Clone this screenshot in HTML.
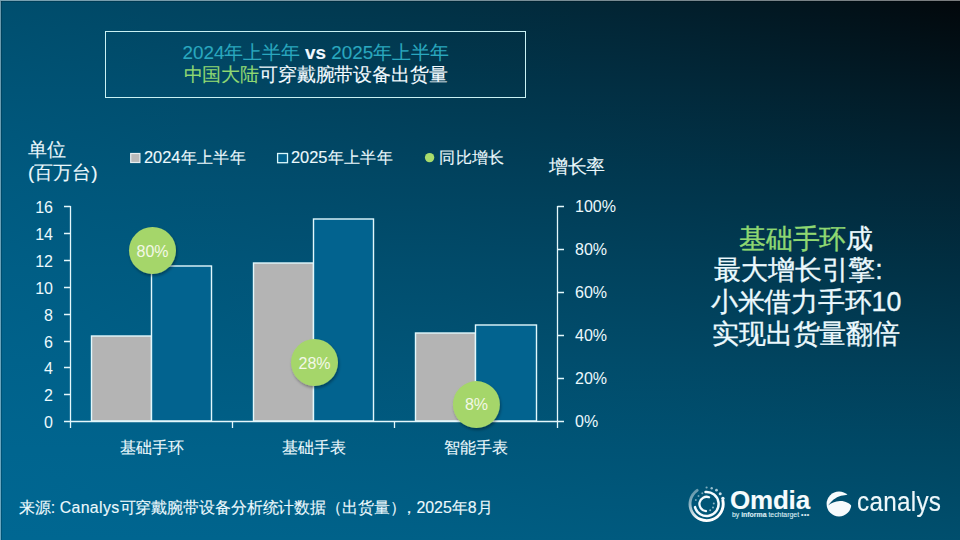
<!DOCTYPE html>
<html><head><meta charset="utf-8">
<style>
html,body{margin:0;padding:0;}
body{width:960px;height:540px;overflow:hidden;position:relative;font-family:"Liberation Sans",sans-serif;color:#ecf9fd;
background:#02344a;}
#bg{position:absolute;left:0;top:0;width:960px;height:540px;}
#bg i{position:absolute;top:0;width:10px;height:540px;}
.a{position:absolute;white-space:nowrap;line-height:1;-webkit-text-stroke:0.12px currentColor;}
#topline{position:absolute;left:0;top:0;width:960px;height:1px;background:rgba(255,255,255,0.47);box-shadow:0 1px 0 rgba(0,0,0,0.18);}
#leftline{position:absolute;left:0;top:1px;width:1px;height:539px;background:rgba(255,255,255,0.42);box-shadow:1px 0 0 rgba(0,0,0,0.18);}
#tbox{position:absolute;left:105px;top:31px;width:421px;height:67px;border:1px solid #c9f1f3;box-sizing:border-box;}
.t1{left:106px;width:419px;text-align:center;top:44px;font-size:18.85px;color:#2aa8bf;}
.t2{left:106px;width:419px;text-align:center;top:66px;font-size:18.85px;color:#f4fbff;}
.g{color:#8fd872;}
svg{position:absolute;left:0;top:0;}
.c{display:inline-block;width:1em;text-align:center;}
</style></head><body>
<div id="bg"><i style="left:0px;background:linear-gradient(#004f6f 0px,#005578 90px,#005a80 180px,#005f86 270px,#00628c 360px,#006590 450px,#006792 540px)"></i><i style="left:10px;background:linear-gradient(#004e6e 0px,#005477 90px,#005a7f 180px,#005e86 270px,#00628b 360px,#00658f 450px,#006792 540px)"></i><i style="left:20px;background:linear-gradient(#004d6d 0px,#005477 90px,#00597f 180px,#005e85 270px,#00628b 360px,#00658f 450px,#006792 540px)"></i><i style="left:30px;background:linear-gradient(#004d6c 0px,#005376 90px,#00597e 180px,#005e85 270px,#00618a 360px,#00658f 450px,#006792 540px)"></i><i style="left:40px;background:linear-gradient(#004c6c 0px,#005375 90px,#00587d 180px,#005d84 270px,#00618a 360px,#00648e 450px,#006792 540px)"></i><i style="left:50px;background:linear-gradient(#004c6b 0px,#005274 90px,#00587d 180px,#005d84 270px,#00618a 360px,#00648e 450px,#006791 540px)"></i><i style="left:60px;background:linear-gradient(#004b6a 0px,#005274 90px,#00577c 180px,#005c83 270px,#006189 360px,#00648e 450px,#006791 540px)"></i><i style="left:70px;background:linear-gradient(#004a69 0px,#005173 90px,#00577b 180px,#005c83 270px,#006089 360px,#00648d 450px,#006691 540px)"></i><i style="left:80px;background:linear-gradient(#004a68 0px,#005072 90px,#00567b 180px,#005c82 270px,#006088 360px,#00648d 450px,#006691 540px)"></i><i style="left:90px;background:linear-gradient(#004967 0px,#005071 90px,#00567a 180px,#005b81 270px,#006088 360px,#00638d 450px,#006691 540px)"></i><i style="left:100px;background:linear-gradient(#004866 0px,#004f70 90px,#005679 180px,#005b81 270px,#005f87 360px,#00638c 450px,#006690 540px)"></i><i style="left:110px;background:linear-gradient(#004865 0px,#004f70 90px,#005579 180px,#005a80 270px,#005f87 360px,#00638c 450px,#006690 540px)"></i><i style="left:120px;background:linear-gradient(#014764 0px,#004e6f 90px,#005578 180px,#005a80 270px,#005f86 360px,#00638c 450px,#006690 540px)"></i><i style="left:130px;background:linear-gradient(#014663 0px,#004e6e 90px,#005477 180px,#005a7f 270px,#005e86 360px,#00628b 450px,#006590 540px)"></i><i style="left:140px;background:linear-gradient(#014663 0px,#014d6d 90px,#005477 180px,#00597f 270px,#005e85 360px,#00628b 450px,#00658f 540px)"></i><i style="left:150px;background:linear-gradient(#014562 0px,#014d6c 90px,#005376 180px,#00597e 270px,#005e85 360px,#00628b 450px,#00658f 540px)"></i><i style="left:160px;background:linear-gradient(#014461 0px,#014c6c 90px,#005375 180px,#00587d 270px,#005d84 360px,#00628a 450px,#00658f 540px)"></i><i style="left:170px;background:linear-gradient(#014460 0px,#014b6b 90px,#005274 180px,#00587d 270px,#005d84 360px,#00618a 450px,#00658f 540px)"></i><i style="left:180px;background:linear-gradient(#01435f 0px,#014b6a 90px,#015274 180px,#00587c 270px,#005d83 360px,#00618a 450px,#00658e 540px)"></i><i style="left:190px;background:linear-gradient(#01435e 0px,#014a69 90px,#015173 180px,#00577c 270px,#005c83 360px,#006189 450px,#00648e 540px)"></i><i style="left:200px;background:linear-gradient(#01425d 0px,#014a68 90px,#015172 180px,#00577b 270px,#005c83 360px,#006189 450px,#00648e 540px)"></i><i style="left:210px;background:linear-gradient(#01415c 0px,#014967 90px,#015072 180px,#00567a 270px,#005c82 360px,#006088 450px,#00648d 540px)"></i><i style="left:220px;background:linear-gradient(#01405b 0px,#014867 90px,#015071 180px,#00567a 270px,#005b81 360px,#006088 450px,#00648d 540px)"></i><i style="left:230px;background:linear-gradient(#01405a 0px,#014866 90px,#014f70 180px,#015579 270px,#005b81 360px,#006088 450px,#00648d 540px)"></i><i style="left:240px;background:linear-gradient(#013f59 0px,#014765 90px,#014f6f 180px,#015579 270px,#005b80 360px,#006087 450px,#00648d 540px)"></i><i style="left:250px;background:linear-gradient(#013e58 0px,#014764 90px,#014e6f 180px,#015578 270px,#005a80 360px,#005f87 450px,#00638c 540px)"></i><i style="left:260px;background:linear-gradient(#013e57 0px,#014663 90px,#014e6e 180px,#015477 270px,#005a7f 360px,#005f86 450px,#00638c 540px)"></i><i style="left:270px;background:linear-gradient(#013d56 0px,#014562 90px,#014d6d 180px,#015477 270px,#005a7f 360px,#005f86 450px,#00638c 540px)"></i><i style="left:280px;background:linear-gradient(#013c55 0px,#014561 90px,#014c6c 180px,#015376 270px,#00597e 360px,#005e85 450px,#00638b 540px)"></i><i style="left:290px;background:linear-gradient(#013c54 0px,#014461 90px,#014c6c 180px,#015375 270px,#00597e 360px,#005e85 450px,#00638b 540px)"></i><i style="left:300px;background:linear-gradient(#013b53 0px,#014460 90px,#014b6b 180px,#015275 270px,#00597d 360px,#005e85 450px,#00628b 540px)"></i><i style="left:310px;background:linear-gradient(#013a52 0px,#01435f 90px,#014b6a 180px,#015274 270px,#00587d 360px,#005e84 450px,#00628a 540px)"></i><i style="left:320px;background:linear-gradient(#013a51 0px,#01425e 90px,#014a69 180px,#015173 270px,#00587c 360px,#005d84 450px,#00628a 540px)"></i><i style="left:330px;background:linear-gradient(#013950 0px,#01425d 90px,#014a69 180px,#015173 270px,#01577c 360px,#005d83 450px,#00628a 540px)"></i><i style="left:340px;background:linear-gradient(#01384f 0px,#01415c 90px,#014968 180px,#015172 270px,#01577b 360px,#005d83 450px,#006289 540px)"></i><i style="left:350px;background:linear-gradient(#01374e 0px,#01405b 90px,#014967 180px,#015071 270px,#01577b 360px,#005c82 450px,#006189 540px)"></i><i style="left:360px;background:linear-gradient(#01374d 0px,#01405a 90px,#014866 180px,#015071 270px,#01567a 360px,#005c82 450px,#006189 540px)"></i><i style="left:370px;background:linear-gradient(#01364c 0px,#013f5a 90px,#014865 180px,#014f70 270px,#015679 360px,#005c81 450px,#006188 540px)"></i><i style="left:380px;background:linear-gradient(#01354b 0px,#013f59 90px,#014765 180px,#014f6f 270px,#015579 360px,#005b81 450px,#006188 540px)"></i><i style="left:390px;background:linear-gradient(#01354a 0px,#013e58 90px,#014664 180px,#014e6f 270px,#015578 360px,#005b81 450px,#006088 540px)"></i><i style="left:400px;background:linear-gradient(#013449 0px,#013d57 90px,#014663 180px,#014e6e 270px,#015578 360px,#005b80 450px,#006087 540px)"></i><i style="left:410px;background:linear-gradient(#013348 0px,#013d56 90px,#014562 180px,#014d6d 270px,#015477 360px,#005a80 450px,#006087 540px)"></i><i style="left:420px;background:linear-gradient(#013247 0px,#013c55 90px,#014561 180px,#014d6d 270px,#015476 360px,#005a7f 450px,#006087 540px)"></i><i style="left:430px;background:linear-gradient(#013246 0px,#013b54 90px,#014461 180px,#014c6c 270px,#015376 360px,#005a7f 450px,#005f86 540px)"></i><i style="left:440px;background:linear-gradient(#013145 0px,#013b53 90px,#014460 180px,#014c6b 270px,#015375 360px,#00597e 450px,#005f86 540px)"></i><i style="left:450px;background:linear-gradient(#013044 0px,#013a52 90px,#01435f 180px,#014b6a 270px,#015375 360px,#00597e 450px,#005f85 540px)"></i><i style="left:460px;background:linear-gradient(#022f43 0px,#013951 90px,#01425e 180px,#014b6a 270px,#015274 360px,#00597d 450px,#005f85 540px)"></i><i style="left:470px;background:linear-gradient(#022f42 0px,#013950 90px,#01425d 180px,#014a69 270px,#015273 360px,#00587d 450px,#005e85 540px)"></i><i style="left:480px;background:linear-gradient(#022e41 0px,#01384f 90px,#01415c 180px,#014a68 270px,#015173 360px,#00587c 450px,#005e84 540px)"></i><i style="left:490px;background:linear-gradient(#022d40 0px,#01374e 90px,#01415c 180px,#014968 270px,#015172 360px,#00587c 450px,#005e84 540px)"></i><i style="left:500px;background:linear-gradient(#022c3f 0px,#01374d 90px,#01405b 180px,#014967 270px,#015072 360px,#00577b 450px,#005e83 540px)"></i><i style="left:510px;background:linear-gradient(#022c3e 0px,#01364c 90px,#013f5a 180px,#014866 270px,#015071 360px,#00577b 450px,#005d83 540px)"></i><i style="left:520px;background:linear-gradient(#022b3d 0px,#01354c 90px,#013f59 180px,#014865 270px,#015070 360px,#00577a 450px,#005d83 540px)"></i><i style="left:530px;background:linear-gradient(#022a3c 0px,#01354b 90px,#013e58 180px,#014765 270px,#014f70 360px,#00567a 450px,#005d82 540px)"></i><i style="left:540px;background:linear-gradient(#02293b 0px,#01344a 90px,#013e57 180px,#014764 270px,#014f6f 360px,#005679 450px,#005c82 540px)"></i><i style="left:550px;background:linear-gradient(#022939 0px,#013349 90px,#013d56 180px,#014663 270px,#014e6e 360px,#005679 450px,#005c81 540px)"></i><i style="left:560px;background:linear-gradient(#022838 0px,#013248 90px,#013c56 180px,#014662 270px,#014e6e 360px,#005578 450px,#005c81 540px)"></i><i style="left:570px;background:linear-gradient(#022737 0px,#023247 90px,#013c55 180px,#014562 270px,#014d6d 360px,#005577 450px,#005c80 540px)"></i><i style="left:580px;background:linear-gradient(#022636 0px,#023146 90px,#013b54 180px,#014461 270px,#014d6c 360px,#005577 450px,#005b80 540px)"></i><i style="left:590px;background:linear-gradient(#022535 0px,#023045 90px,#013b53 180px,#014460 270px,#014c6c 360px,#005476 450px,#005b80 540px)"></i><i style="left:600px;background:linear-gradient(#022534 0px,#023044 90px,#013a52 180px,#01435f 270px,#014c6b 360px,#005476 450px,#005b7f 540px)"></i><i style="left:610px;background:linear-gradient(#022433 0px,#022f43 90px,#013951 180px,#01435e 270px,#014c6a 360px,#005375 450px,#005a7f 540px)"></i><i style="left:620px;background:linear-gradient(#022332 0px,#022e42 90px,#013950 180px,#01425e 270px,#014b6a 360px,#005375 450px,#005a7e 540px)"></i><i style="left:630px;background:linear-gradient(#022231 0px,#022e41 90px,#01384f 180px,#01425d 270px,#014b69 360px,#005374 450px,#005a7e 540px)"></i><i style="left:640px;background:linear-gradient(#022130 0px,#022d40 90px,#01374f 180px,#01415c 270px,#014a68 360px,#005274 450px,#005a7d 540px)"></i><i style="left:650px;background:linear-gradient(#02212e 0px,#022c3f 90px,#01374e 180px,#01415b 270px,#014a68 360px,#005273 450px,#00597d 540px)"></i><i style="left:660px;background:linear-gradient(#02202d 0px,#022b3e 90px,#01364d 180px,#01405b 270px,#014967 360px,#005172 450px,#00597c 540px)"></i><i style="left:670px;background:linear-gradient(#021f2c 0px,#022b3d 90px,#01354c 180px,#013f5a 270px,#014966 360px,#005172 450px,#00597c 540px)"></i><i style="left:680px;background:linear-gradient(#021e2b 0px,#022a3c 90px,#01354b 180px,#013f59 270px,#014866 360px,#005171 450px,#00587b 540px)"></i><i style="left:690px;background:linear-gradient(#021d2a 0px,#02293b 90px,#01344a 180px,#013e58 270px,#014865 360px,#005071 450px,#00587b 540px)"></i><i style="left:700px;background:linear-gradient(#021d29 0px,#022839 90px,#013349 180px,#013e57 270px,#014764 360px,#005070 450px,#00587a 540px)"></i><i style="left:710px;background:linear-gradient(#021c28 0px,#022838 90px,#013348 180px,#013d56 270px,#014764 360px,#004f6f 450px,#00577a 540px)"></i><i style="left:720px;background:linear-gradient(#021b26 0px,#022737 90px,#013247 180px,#013d56 270px,#014663 360px,#004f6f 450px,#00577a 540px)"></i><i style="left:730px;background:linear-gradient(#021a25 0px,#022636 90px,#013246 180px,#013c55 270px,#014662 360px,#004f6e 450px,#005779 540px)"></i><i style="left:740px;background:linear-gradient(#021924 0px,#022535 90px,#013145 180px,#013b54 270px,#014561 360px,#004e6e 450px,#005679 540px)"></i><i style="left:750px;background:linear-gradient(#021823 0px,#022534 90px,#013044 180px,#013b53 270px,#014561 360px,#004e6d 450px,#005678 540px)"></i><i style="left:760px;background:linear-gradient(#021822 0px,#022433 90px,#012f43 180px,#013a52 270px,#014460 360px,#004d6c 450px,#005677 540px)"></i><i style="left:770px;background:linear-gradient(#021721 0px,#022332 90px,#012f42 180px,#013a51 270px,#01445f 360px,#004d6c 450px,#005577 540px)"></i><i style="left:780px;background:linear-gradient(#02161f 0px,#022231 90px,#012e41 180px,#013951 270px,#01435e 360px,#004c6b 450px,#005576 540px)"></i><i style="left:790px;background:linear-gradient(#02151e 0px,#022230 90px,#012d40 180px,#013850 270px,#01435e 360px,#004c6a 450px,#005476 540px)"></i><i style="left:800px;background:linear-gradient(#02141d 0px,#02212f 90px,#012d40 180px,#01384f 270px,#01425d 360px,#004c6a 450px,#005475 540px)"></i><i style="left:810px;background:linear-gradient(#02131c 0px,#02202e 90px,#012c3f 180px,#01374e 270px,#01425c 360px,#004b69 450px,#005475 540px)"></i><i style="left:820px;background:linear-gradient(#02121b 0px,#021f2d 90px,#012b3e 180px,#01374d 270px,#01415b 360px,#004b69 450px,#005374 540px)"></i><i style="left:830px;background:linear-gradient(#021219 0px,#021f2c 90px,#012b3d 180px,#01364c 270px,#01405b 360px,#004a68 450px,#005374 540px)"></i><i style="left:840px;background:linear-gradient(#021118 0px,#021e2b 90px,#012a3c 180px,#01354b 270px,#01405a 360px,#004a67 450px,#005373 540px)"></i><i style="left:850px;background:linear-gradient(#021017 0px,#021d29 90px,#01293b 180px,#01354b 270px,#013f59 360px,#004967 450px,#005273 540px)"></i><i style="left:860px;background:linear-gradient(#020f16 0px,#021c28 90px,#01293a 180px,#01344a 270px,#013f58 360px,#004966 450px,#005272 540px)"></i><i style="left:870px;background:linear-gradient(#020e15 0px,#021b27 90px,#012839 180px,#013449 270px,#013e58 360px,#004865 450px,#005272 540px)"></i><i style="left:880px;background:linear-gradient(#020d13 0px,#021b26 90px,#022738 180px,#013348 270px,#013e57 360px,#004865 450px,#005171 540px)"></i><i style="left:890px;background:linear-gradient(#020c12 0px,#021a25 90px,#022637 180px,#013247 270px,#013d56 360px,#004764 450px,#005170 540px)"></i><i style="left:900px;background:linear-gradient(#020b11 0px,#021924 90px,#022636 180px,#013246 270px,#013d55 360px,#004763 450px,#005070 540px)"></i><i style="left:910px;background:linear-gradient(#020b10 0px,#021823 90px,#022535 180px,#013145 270px,#013c55 360px,#004663 450px,#00506f 540px)"></i><i style="left:920px;background:linear-gradient(#020a0e 0px,#021722 90px,#022434 180px,#013044 270px,#013c54 360px,#004662 450px,#00506f 540px)"></i><i style="left:930px;background:linear-gradient(#02090d 0px,#021721 90px,#022433 180px,#013043 270px,#013b53 360px,#004661 450px,#004f6e 540px)"></i><i style="left:940px;background:linear-gradient(#02080c 0px,#02161f 90px,#022332 180px,#012f42 270px,#013a52 360px,#004560 450px,#004f6e 540px)"></i><i style="left:950px;background:linear-gradient(#02070b 0px,#02151e 90px,#022231 180px,#012e42 270px,#013a51 360px,#004560 450px,#004e6d 540px)"></i></div>
<div id="topline"></div><div id="leftline"></div>
<div id="tbox"></div>
<div class="a t1">2024<span class="c">年</span><span class="c">上</span><span class="c">半</span><span class="c">年</span> <b style="color:#f0f8ff;font-weight:bold">vs</b> 2025<span class="c">年</span><span class="c">上</span><span class="c">半</span><span class="c">年</span></div>
<div class="a t2"><span class="g"><span class="c">中</span><span class="c">国</span><span class="c">大</span><span class="c">陆</span></span><span class="c">可</span><span class="c">穿</span><span class="c">戴</span><span class="c">腕</span><span class="c">带</span><span class="c">设</span><span class="c">备</span><span class="c">出</span><span class="c">货</span><span class="c">量</span></div>

<div class="a" style="left:28px;top:139px;font-size:19px;line-height:22.5px;"><span class="c">单</span><span class="c">位</span><br>(<span class="c">百</span><span class="c">万</span><span class="c">台</span>)</div>

<svg width="960" height="540" viewBox="0 0 960 540">
  <defs>
    <filter id="sh" x="-30%" y="-30%" width="160%" height="160%">
      <feDropShadow dx="1" dy="2" stdDeviation="1.5" flood-color="#000" flood-opacity="0.35"/>
    </filter>
  </defs>
  <!-- legend -->
  <rect x="130.7" y="153.5" width="9.2" height="9" fill="#bababa" stroke="#e8eef0" stroke-width="1.2"/>
  <rect x="277.6" y="153.5" width="9.9" height="9.2" fill="#00618d" stroke="#daf8fc" stroke-width="1.3"/>
  <circle cx="429.6" cy="157.6" r="4.7" fill="#a8dc6c"/>
  <!-- bars -->
  <g stroke="#e2f8fc" stroke-width="1.4">
    <rect x="91.5" y="336" width="60" height="85" fill="#b4b4b4"/>
    <rect x="151.5" y="266" width="60" height="155" fill="#02638f"/>
    <rect x="253.5" y="263" width="60" height="158" fill="#b4b4b4"/>
    <rect x="313.5" y="219" width="60" height="202" fill="#02638f"/>
    <rect x="415.5" y="333" width="60" height="88" fill="#b4b4b4"/>
    <rect x="475.5" y="325" width="61" height="96" fill="#02638f"/>
  </g>
  <!-- axes -->
  <g stroke="#e4f7fb" stroke-width="1.3" fill="none">
    <path d="M70.5 206V428 M64 206.5H70.5 M64 233.5H70.5 M64 260.5H70.5 M64 287.5H70.5 M64 314.5H70.5 M64 341.5H70.5 M64 367.5H70.5 M64 394.5H70.5 M64 421.5H557.5"/>
    <path d="M232.5 421V428 M394.5 421V428"/>
    <path d="M557.5 206V428 M557.5 206.5H564 M557.5 249.5H564 M557.5 292.5H564 M557.5 335.5H564 M557.5 378.5H564 M557.5 421.5H564"/>
  </g>
  <!-- bubbles -->
  <g filter="url(#sh)" fill="#a5d66a">
    <circle cx="152.5" cy="250.5" r="23.5"/>
    <circle cx="314.5" cy="362.5" r="23.5"/>
    <circle cx="476.4" cy="404.6" r="23.5"/>
  </g>
</svg>

<div class="a" style="left:144px;top:149px;font-size:16.4px;">2024<span class="c">年</span><span class="c">上</span><span class="c">半</span><span class="c">年</span></div>
<div class="a" style="left:291px;top:149px;font-size:16.4px;">2025<span class="c">年</span><span class="c">上</span><span class="c">半</span><span class="c">年</span></div>
<div class="a" style="left:439px;top:149px;font-size:16.4px;"><span class="c">同</span><span class="c">比</span><span class="c">增</span><span class="c">长</span></div>
<div class="a" style="left:549px;top:157.5px;font-size:18.5px;"><span class="c">增</span><span class="c">长</span><span class="c">率</span></div>

<!-- y labels left -->
<div class="a" style="-webkit-text-stroke:0;left:0;width:53px;text-align:right;top:200px;font-size:16px;line-height:16px;">16</div>
<div class="a" style="-webkit-text-stroke:0;left:0;width:53px;text-align:right;top:227px;font-size:16px;line-height:16px;">14</div>
<div class="a" style="-webkit-text-stroke:0;left:0;width:53px;text-align:right;top:254px;font-size:16px;line-height:16px;">12</div>
<div class="a" style="-webkit-text-stroke:0;left:0;width:53px;text-align:right;top:281px;font-size:16px;line-height:16px;">10</div>
<div class="a" style="-webkit-text-stroke:0;left:0;width:53px;text-align:right;top:308px;font-size:16px;line-height:16px;">8</div>
<div class="a" style="-webkit-text-stroke:0;left:0;width:53px;text-align:right;top:335px;font-size:16px;line-height:16px;">6</div>
<div class="a" style="-webkit-text-stroke:0;left:0;width:53px;text-align:right;top:361px;font-size:16px;line-height:16px;">4</div>
<div class="a" style="-webkit-text-stroke:0;left:0;width:53px;text-align:right;top:388px;font-size:16px;line-height:16px;">2</div>
<div class="a" style="-webkit-text-stroke:0;left:0;width:53px;text-align:right;top:415px;font-size:16px;line-height:16px;">0</div>
<!-- y labels right -->
<div class="a" style="-webkit-text-stroke:0;left:575px;top:199px;font-size:16px;line-height:16px;">100%</div>
<div class="a" style="-webkit-text-stroke:0;left:575px;top:242px;font-size:16px;line-height:16px;">80%</div>
<div class="a" style="-webkit-text-stroke:0;left:575px;top:285px;font-size:16px;line-height:16px;">60%</div>
<div class="a" style="-webkit-text-stroke:0;left:575px;top:328px;font-size:16px;line-height:16px;">40%</div>
<div class="a" style="-webkit-text-stroke:0;left:575px;top:371px;font-size:16px;line-height:16px;">20%</div>
<div class="a" style="-webkit-text-stroke:0;left:575px;top:414px;font-size:16px;line-height:16px;">0%</div>

<!-- bubble labels -->
<div class="a" style="-webkit-text-stroke:0;left:122px;width:61px;text-align:center;top:244px;font-size:16px;line-height:16px;color:#f3f8e6;">80%</div>
<div class="a" style="-webkit-text-stroke:0;left:284px;width:61px;text-align:center;top:356px;font-size:16px;line-height:16px;color:#f3f8e6;">28%</div>
<div class="a" style="-webkit-text-stroke:0;left:446px;width:61px;text-align:center;top:396.5px;font-size:16px;line-height:16px;color:#f3f8e6;">8%</div>

<!-- x labels -->
<div class="a" style="left:71px;width:162px;text-align:center;top:440px;font-size:16px;line-height:16px;"><span class="c">基</span><span class="c">础</span><span class="c">手</span><span class="c">环</span></div>
<div class="a" style="left:233px;width:162px;text-align:center;top:440px;font-size:16px;line-height:16px;"><span class="c">基</span><span class="c">础</span><span class="c">手</span><span class="c">表</span></div>
<div class="a" style="left:395px;width:162px;text-align:center;top:440px;font-size:16px;line-height:16px;"><span class="c">智</span><span class="c">能</span><span class="c">手</span><span class="c">表</span></div>

<!-- right text -->
<div class="a" style="left:656px;width:300px;text-align:center;top:223.5px;font-size:26.8px;line-height:31.9px;-webkit-text-stroke:0.35px currentColor;"><span class="g"><span class="c">基</span><span class="c">础</span><span class="c">手</span><span class="c">环</span></span><span class="c">成</span><br><span class="c">最</span><span class="c">大</span><span class="c">增</span><span class="c">长</span><span class="c">引</span><span class="c">擎</span><span style="letter-spacing:0">:</span>&nbsp;&nbsp;<br><span class="c">小</span><span class="c">米</span><span class="c">借</span><span class="c">力</span><span class="c">手</span><span class="c">环</span>10<br><span class="c">实</span><span class="c">现</span><span class="c">出</span><span class="c">货</span><span class="c">量</span><span class="c">翻</span><span class="c">倍</span></div>

<!-- footer -->
<div class="a" style="left:19px;top:500px;font-size:15.9px;line-height:16px;"><span class="c">来</span><span class="c">源</span>: <span style="letter-spacing:0.35px">Canalys</span><span class="c">可</span><span class="c">穿</span><span class="c">戴</span><span class="c">腕</span><span class="c">带</span><span class="c">设</span><span class="c">备</span><span class="c">分</span><span class="c">析</span><span class="c">统</span><span class="c">计</span><span class="c">数</span><span class="c">据</span><span class="c">（</span><span class="c">出</span><span class="c">货</span><span class="c">量</span><span class="c" style="margin-right:-5px">）</span><span class="c">，</span>2025<span class="c">年</span>8<span class="c">月</span></div>


<svg width="960" height="540" viewBox="0 0 960 540" style="position:absolute;left:0;top:0">
  <defs>
    <linearGradient id="og" x1="0" y1="0" x2="1" y2="1">
      <stop offset="0" stop-color="#ffffff" stop-opacity="0.3"/>
      <stop offset="0.6" stop-color="#ffffff" stop-opacity="1"/>
    </linearGradient>
  </defs>
  <g transform="translate(0,-0.8)"><g fill="none" stroke-linecap="round">
    <path d="M697.1 491.2A16.6 16.6 0 1 0 722.84 501.35" stroke="url(#og)" stroke-width="2.9"/>
    <path d="M705.55 492.85A12 12 0 1 1 695.01 507.91" stroke="#f4fbff" stroke-width="2.5"/>
    <path d="M709.06 498.03A7.2 7.2 0 1 0 705.97 511.97" stroke="#f4fbff" stroke-width="2.3"/>
  </g>
  <g fill="#eaf6fb">
    <circle cx="706.6" cy="488.3" r="1.1" opacity="0.55"/>
    <circle cx="711.7" cy="489.1" r="1.2" opacity="0.65"/>
    <circle cx="716.5" cy="491" r="1.35" opacity="0.75"/>
    <circle cx="720.2" cy="494.5" r="1.5" opacity="0.85"/>
    <circle cx="722.9" cy="499.2" r="1.7" opacity="1"/>
    <circle cx="695.8" cy="500.9" r="1" opacity="0.5"/>
    <circle cx="698.5" cy="496.7" r="1" opacity="0.5"/>
    <circle cx="702.3" cy="494.1" r="1" opacity="0.5"/>
    <circle cx="713.8" cy="504.2" r="1" opacity="0.6"/>
    <circle cx="713" cy="508.2" r="1" opacity="0.6"/>
    <circle cx="710.2" cy="511" r="1" opacity="0.6"/>
  </g></g>
  <circle cx="839" cy="504" r="12.4" fill="#f6fbfd"/>
  <path d="M828.2 505.4C831 501.5 835.5 497.2 841 495.8C844 495.1 846.5 494.9 848.2 495C850 496 852.5 500 853 507.5C850 503 845 500.8 840 501C835 501.3 831 503 828.2 505.4Z" fill="#004f6e"/>
</svg>
<div class="a" style="left:730px;top:487px;font-size:26px;font-weight:bold;color:#f6fbfd;letter-spacing:-0.2px;">Omdia</div>
<div class="a" style="left:732px;top:512px;font-size:6.9px;color:#dcecf3;">by <b>informa</b> techtarget <span style="letter-spacing:0.5px">&bull;&bull;&bull;</span></div>
<div class="a" style="left:857px;top:488.8px;font-size:27px;color:#eef8fb;letter-spacing:0.3px;transform:scaleX(0.9);transform-origin:0 0;">canalys</div>

</body></html>
